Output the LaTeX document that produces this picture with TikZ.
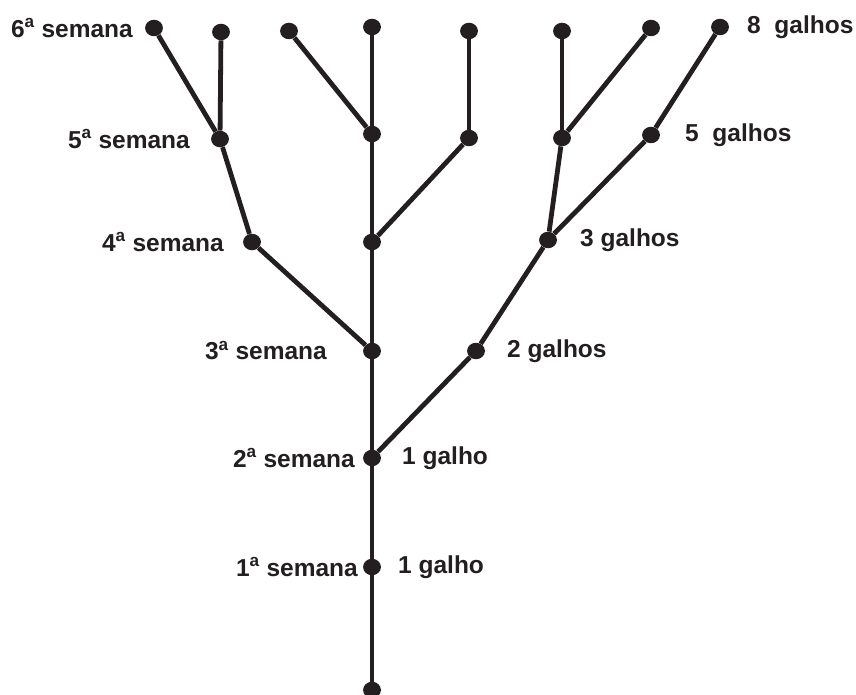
\documentclass[tikz,border=0pt]{standalone}
\usepackage{fontspec}
\setmainfont{Liberation Sans}
\usetikzlibrary{positioning}
\definecolor{ink}{RGB}{35,31,32}

\begin{document}
\begin{tikzpicture}
    [
    x=1pt,y=-1pt,
    point/.style={circle,fill=ink,inner sep=0pt,minimum size=16.5pt,xscale=1.08},
    tag/.style={inner sep=0pt,text=ink,font=\fontsize{24.5}{28}\selectfont\bfseries},
    branch/.style={draw=ink,line width=4.8pt}
    ]
    \useasboundingbox (0,0) rectangle (856,695);
    \node[point] (c0) at (372,690) {};
    \node[point] (c1) at (372,567) {};
    \node[point] (c2) at (372,458) {};
    \node[point] (c3) at (372,351) {};
    \node[point] (c4) at (372,242) {};
    \node[point] (c5) at (372,134) {};
    \node[point] (c6) at (372,27) {};
    \node[point] (l4) at (252,242) {};
    \node[point] (l5) at (220,139) {};
    \node[point] (l6a) at (154,28) {};
    \node[point] (l6b) at (221,32) {};
    \node[point] (m6) at (289,31) {};
    \node[point] (m5) at (469,138) {};
    \node[point] (m6b) at (469,31) {};
    \node[point] (r3) at (476,351) {};
    \node[point] (r4) at (548,240) {};
    \node[point] (r5a) at (562,138) {};
    \node[point] (r5b) at (651,135) {};
    \node[point] (r6a) at (562,31) {};
    \node[point] (r6b) at (651,28) {};
    \node[point] (r6c) at (720,27) {};
    \node[tag,anchor=mid east,left=21pt of l6a.center] (s6) {6\textsuperscript{a} semana};
    \node[tag,anchor=mid east,left=30pt of l5.center] (s5) {5\textsuperscript{a} semana};
    \node[tag,anchor=mid east,left=28pt of l4.center] (s4) {4\textsuperscript{a} semana};
    \node[tag,anchor=mid east,left=45pt of c3.center] (s3) {3\textsuperscript{a} semana};
    \node[tag,anchor=mid east,left=17pt of c2.center] (s2) {2\textsuperscript{a} semana};
    \node[tag,anchor=mid east,left=14pt of c1.center] (s1) {1\textsuperscript{a} semana};
    \node[tag,anchor=mid west,right=26pt of c1.center] (g1) {1 galho};
    \node[tag,anchor=mid west,right=30pt of c2.center] (g2) {1 galho};
    \node[tag,anchor=mid west,right=31pt of r3.center] (g3) {2 galhos};
    \node[tag,anchor=mid west,right=32pt of r4.center] (g4) {3 galhos};
    \node[tag,anchor=mid west,right=34pt of r5b.center] (g5) {5\ \ galhos};
    \node[tag,anchor=mid west,right=27pt of r6c.center] (g6) {8\ \ galhos};
    \path[branch]
        (c0) edge (c1)
        (c1) edge (c2)
        (c2) edge (c3)
             edge (r3)
        (c3) edge (c4)
             edge (l4)
        (c4) edge (c5)
             edge (m5)
        (c5) edge (c6)
             edge (m6)
        (m5) edge (m6b)
        (l4) edge (l5)
        (l5) edge (l6a)
             edge (l6b)
        (r3) edge (r4)
        (r4) edge (r5a)
             edge (r5b)
        (r5a) edge (r6a)
              edge (r6b)
        (r5b) edge (r6c)
    ;
\end{tikzpicture}
\end{document}
